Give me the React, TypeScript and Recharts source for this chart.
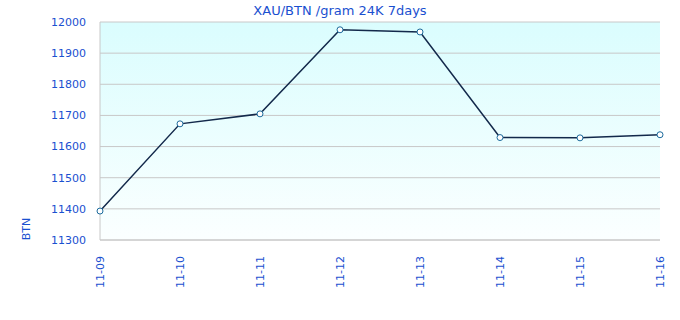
import { CartesianGrid, Label, Line, LineChart, XAxis, YAxis } from 'recharts';

const days = ['11-09', '11-10', '11-11', '11-12', '11-13', '11-14', '11-15', '11-16'];
const prices = [11393, 11673, 11705, 11975, 11968, 11629, 11628, 11638];
const yTicks = [11300, 11400, 11500, 11600, 11700, 11800, 11900, 12000];

const BLUE = '#1a50d0';
const FONT = '"DejaVu Sans", Verdana, sans-serif';

const data = days.map((d, i) => ({ day: d, price: prices[i] }));

function DayTick({ x, y, payload }: any) {
  return (
    <text
      x={x}
      y={y}
      transform={`rotate(-90 ${x} ${y})`}
      textAnchor="end"
      dominantBaseline="central"
      fill={BLUE}
      fontSize={11}
      fontFamily={FONT}
    >
      {payload.value}
    </text>
  );
}

export default function App() {
  return (
    <div style={{ position: 'absolute', left: 0, top: 0, width: 680, height: 320, background: '#fff' }}>
      <div
        style={{
          position: 'absolute',
          top: 3,
          width: 680,
          textAlign: 'center',
          color: BLUE,
          fontSize: 13,
          fontFamily: FONT,
        }}
      >
        XAU/BTN /gram 24K 7days
      </div>
      <LineChart width={680} height={320} data={data} margin={{ top: 22, right: 20, bottom: 0, left: 40 }}>
        <defs>
          <linearGradient id="bg" x1="0" y1="0" x2="0" y2="1">
            <stop offset="0%" stopColor="#dafdfe" />
            <stop offset="100%" stopColor="#fbffff" />
          </linearGradient>
        </defs>
        <CartesianGrid vertical={false} stroke="#c8c8c8" fill="url(#bg)" fillOpacity={1} />
        <XAxis
          dataKey="day"
          height={80}
          tick={<DayTick />}
          tickLine={false}
          axisLine={{ stroke: '#c8c8c8' }}
          tickMargin={10}
          interval={0}
        />
        <YAxis
          domain={[11300, 12000]}
          ticks={yTicks}
          width={60}
          tickLine={false}
          axisLine={{ stroke: '#c8c8c8' }}
          tick={{ fill: BLUE, fontSize: 11, fontFamily: FONT }}
          tickMargin={8}
        >
          <Label
            content={() => (
              <text
                x={30}
                y={229}
                transform="rotate(-90 30 229)"
                textAnchor="middle"
                fill={BLUE}
                fontSize={11}
                fontFamily={FONT}
              >
                BTN
              </text>
            )}
          />
        </YAxis>
        <YAxis yAxisId="r" orientation="right" width={0} tick={false} tickLine={false} axisLine={{ stroke: '#c8c8c8' }} />
        <Line
          dataKey="price"
          stroke="#13294b"
          strokeWidth={1.5}
          dot={{ r: 3, fill: '#fff', stroke: '#1b6a9c', strokeWidth: 1 }}
          activeDot={false}
          isAnimationActive={false}
        />
      </LineChart>
    </div>
  );
}
